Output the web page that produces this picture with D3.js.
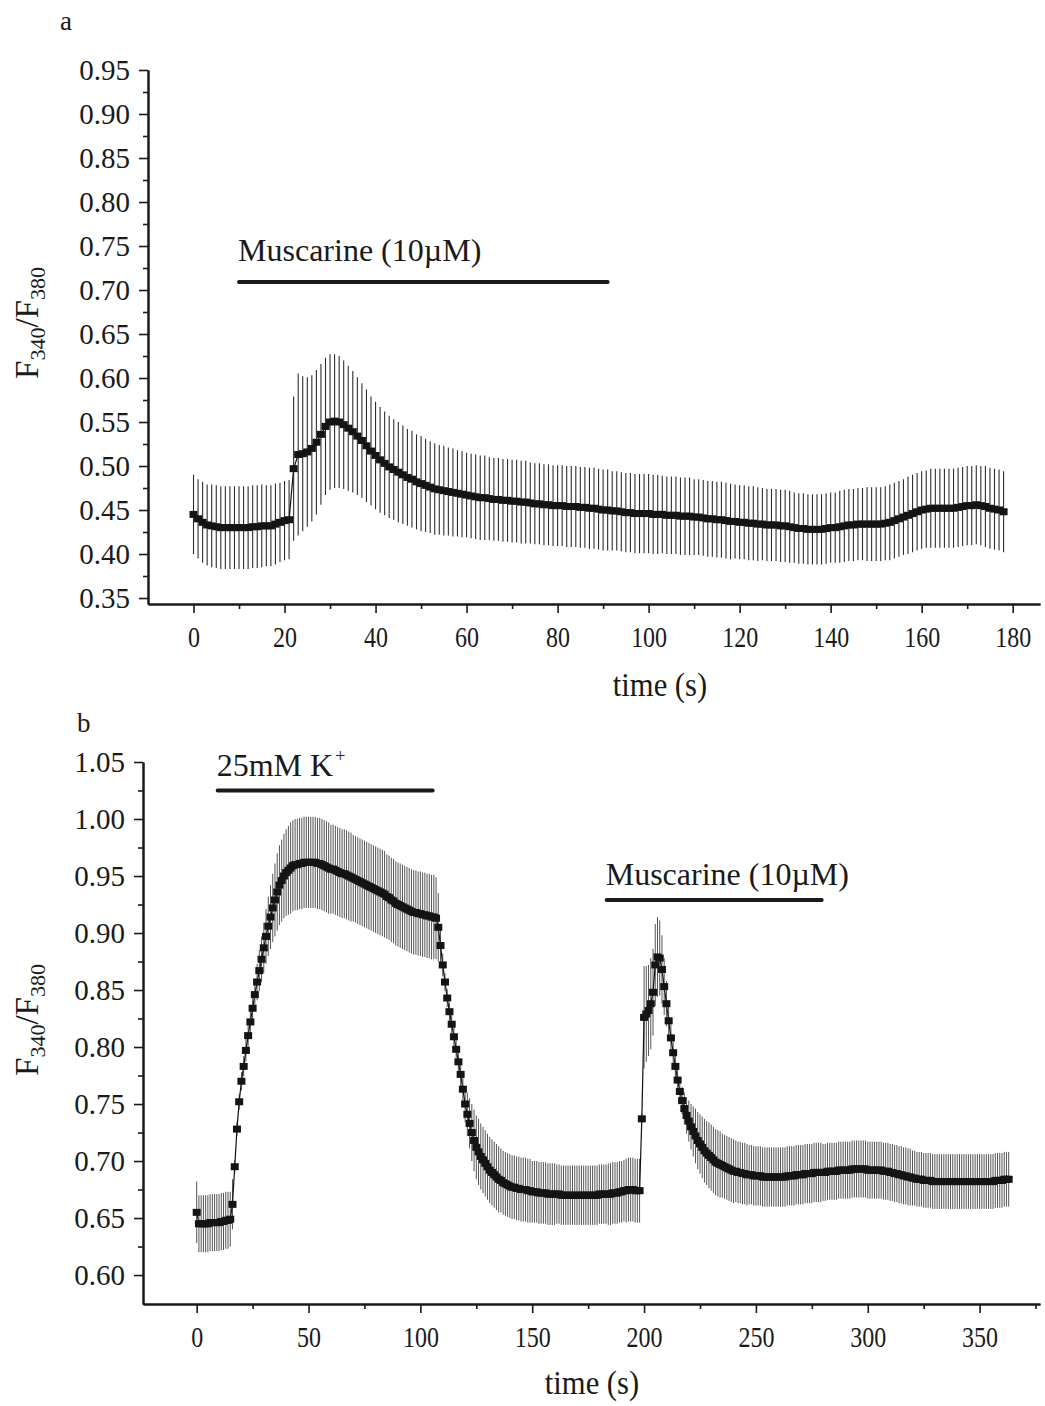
<!DOCTYPE html>
<html><head><meta charset="utf-8">
<script src="https://cdn.jsdelivr.net/npm/d3@7"></script>
<style>
body{margin:0;background:#fff}
svg{display:block;background:#fff}
text{font-family:"Liberation Serif","Times New Roman",serif;fill:#1a1a1a}
</style>
</head><body>
<svg id="chart" width="1045" height="1406"></svg>
<script>
// ---------------- DATA ----------------
// Panel a: sampled every 1 s, from t = 0 s
const sampleStepA = 1;
const meanA = [
0.445,0.440,0.436,0.433,0.432,0.431,0.430,0.430,0.430,0.430,
0.430,0.430,0.430,0.431,0.431,0.432,0.432,0.432,0.434,0.436,
0.438,0.439,0.497,0.513,0.514,0.516,0.520,0.527,0.536,0.545,
0.550,0.551,0.550,0.547,0.543,0.539,0.534,0.529,0.523,0.517,
0.512,0.507,0.503,0.499,0.496,0.493,0.490,0.487,0.485,0.482,
0.480,0.478,0.476,0.474,0.473,0.472,0.471,0.470,0.469,0.468,
0.467,0.466,0.465,0.464,0.464,0.463,0.462,0.462,0.461,0.461,
0.460,0.460,0.459,0.459,0.458,0.457,0.457,0.456,0.456,0.455,
0.455,0.455,0.454,0.454,0.454,0.453,0.453,0.452,0.452,0.451,
0.450,0.450,0.449,0.449,0.448,0.447,0.447,0.446,0.446,0.446,
0.446,0.445,0.445,0.445,0.444,0.444,0.444,0.443,0.443,0.443,
0.442,0.442,0.441,0.440,0.440,0.439,0.439,0.438,0.437,0.437,
0.436,0.436,0.435,0.435,0.434,0.434,0.433,0.433,0.433,0.432,
0.432,0.431,0.430,0.429,0.429,0.428,0.428,0.428,0.428,0.429,
0.430,0.430,0.431,0.432,0.433,0.433,0.434,0.434,0.434,0.434,
0.434,0.434,0.435,0.436,0.438,0.440,0.442,0.444,0.446,0.448,
0.450,0.451,0.452,0.452,0.452,0.452,0.452,0.452,0.453,0.454,
0.455,0.455,0.456,0.455,0.454,0.452,0.451,0.450,0.448];
const errA = [
0.045,0.045,0.046,0.046,0.047,0.047,0.047,0.047,0.047,0.047,
0.047,0.047,0.047,0.047,0.047,0.047,0.046,0.046,0.046,0.045,
0.045,0.045,0.082,0.092,0.088,0.085,0.083,0.082,0.080,0.078,
0.077,0.076,0.075,0.073,0.071,0.069,0.067,0.065,0.064,0.062,
0.061,0.060,0.059,0.058,0.057,0.057,0.056,0.055,0.055,0.054,
0.054,0.053,0.052,0.052,0.051,0.051,0.050,0.050,0.049,0.049,
0.048,0.048,0.048,0.048,0.048,0.047,0.047,0.047,0.047,0.047,
0.047,0.047,0.047,0.047,0.046,0.046,0.046,0.046,0.046,0.046,
0.046,0.046,0.046,0.046,0.046,0.046,0.046,0.046,0.046,0.046,
0.046,0.046,0.045,0.045,0.045,0.045,0.045,0.045,0.045,0.045,
0.045,0.045,0.045,0.044,0.044,0.044,0.044,0.044,0.044,0.044,
0.043,0.043,0.043,0.043,0.043,0.043,0.043,0.043,0.043,0.042,
0.042,0.042,0.042,0.042,0.042,0.041,0.041,0.041,0.041,0.041,
0.041,0.041,0.040,0.040,0.040,0.040,0.040,0.040,0.040,0.040,
0.040,0.040,0.041,0.041,0.041,0.041,0.041,0.041,0.042,0.042,
0.042,0.042,0.042,0.043,0.043,0.043,0.043,0.044,0.044,0.044,
0.044,0.044,0.045,0.045,0.045,0.045,0.045,0.045,0.045,0.045,
0.045,0.045,0.045,0.045,0.046,0.046,0.046,0.046,0.046];

// Panel b: sampled every 1 s, from t = 0 s
const sampleStepB = 1;
const meanB = [
0.655,0.645,0.645,0.645,0.645,0.645,0.646,0.646,0.646,0.646,
0.646,0.647,0.647,0.648,0.648,0.649,0.662,0.695,0.728,0.752,
0.770,0.783,0.797,0.810,0.822,0.834,0.846,0.857,0.867,0.877,
0.887,0.897,0.906,0.914,0.922,0.929,0.936,0.942,0.946,0.950,
0.953,0.955,0.957,0.959,0.960,0.960,0.961,0.961,0.962,0.962,
0.962,0.962,0.962,0.962,0.961,0.961,0.960,0.959,0.958,0.957,
0.956,0.956,0.955,0.954,0.953,0.952,0.952,0.951,0.950,0.949,
0.948,0.947,0.946,0.945,0.944,0.943,0.942,0.941,0.940,0.939,
0.938,0.937,0.936,0.935,0.934,0.932,0.931,0.929,0.928,0.926,
0.925,0.924,0.923,0.922,0.921,0.920,0.919,0.918,0.918,0.917,
0.917,0.916,0.916,0.915,0.915,0.914,0.914,0.913,0.905,0.889,
0.872,0.857,0.843,0.831,0.820,0.809,0.798,0.787,0.776,0.763,
0.750,0.741,0.733,0.725,0.718,0.712,0.708,0.704,0.701,0.698,
0.695,0.692,0.690,0.688,0.686,0.684,0.683,0.681,0.680,0.679,
0.678,0.677,0.677,0.676,0.676,0.675,0.675,0.675,0.674,0.674,
0.673,0.673,0.673,0.672,0.672,0.672,0.672,0.671,0.671,0.671,
0.671,0.671,0.671,0.670,0.670,0.670,0.670,0.670,0.670,0.670,
0.670,0.670,0.670,0.670,0.670,0.670,0.670,0.670,0.670,0.670,
0.671,0.671,0.671,0.671,0.671,0.671,0.672,0.672,0.672,0.673,
0.673,0.674,0.674,0.675,0.675,0.675,0.674,0.674,0.674,0.737,
0.826,0.829,0.832,0.838,0.848,0.872,0.879,0.878,0.868,0.853,
0.838,0.823,0.808,0.795,0.783,0.771,0.761,0.753,0.746,0.740,
0.735,0.730,0.726,0.722,0.718,0.715,0.712,0.709,0.707,0.705,
0.703,0.701,0.699,0.698,0.697,0.696,0.695,0.694,0.693,0.692,
0.691,0.691,0.690,0.690,0.689,0.689,0.688,0.688,0.688,0.687,
0.687,0.687,0.687,0.686,0.686,0.686,0.686,0.686,0.686,0.686,
0.686,0.686,0.686,0.686,0.687,0.687,0.687,0.687,0.688,0.688,
0.688,0.688,0.689,0.689,0.689,0.689,0.690,0.690,0.690,0.690,
0.690,0.690,0.691,0.691,0.691,0.691,0.691,0.692,0.692,0.692,
0.692,0.692,0.692,0.693,0.693,0.693,0.693,0.693,0.693,0.693,
0.692,0.692,0.692,0.692,0.692,0.692,0.692,0.691,0.691,0.691,
0.690,0.690,0.689,0.689,0.688,0.688,0.687,0.687,0.686,0.686,
0.685,0.685,0.684,0.684,0.684,0.683,0.683,0.683,0.683,0.682,
0.682,0.682,0.682,0.682,0.682,0.682,0.682,0.682,0.682,0.682,
0.682,0.682,0.682,0.682,0.682,0.682,0.682,0.682,0.682,0.682,
0.682,0.682,0.682,0.682,0.682,0.682,0.682,0.683,0.683,0.683,
0.683,0.684,0.684,0.684];
const errB = [
0.027,0.025,0.025,0.025,0.025,0.025,0.025,0.025,0.025,0.025,
0.025,0.025,0.025,0.025,0.025,0.024,0.022,0.006,0.006,0.007,
0.008,0.009,0.010,0.011,0.012,0.013,0.014,0.016,0.018,0.020,
0.022,0.024,0.026,0.028,0.030,0.032,0.034,0.035,0.036,0.037,
0.038,0.039,0.040,0.040,0.040,0.040,0.040,0.040,0.040,0.040,
0.040,0.040,0.040,0.040,0.040,0.040,0.040,0.040,0.040,0.040,
0.039,0.039,0.039,0.039,0.039,0.039,0.039,0.039,0.039,0.039,
0.038,0.038,0.038,0.038,0.038,0.038,0.038,0.038,0.038,0.038,
0.038,0.038,0.038,0.038,0.038,0.037,0.037,0.037,0.037,0.037,
0.037,0.037,0.037,0.037,0.037,0.037,0.037,0.037,0.037,0.037,
0.037,0.037,0.037,0.037,0.037,0.037,0.037,0.036,0.030,0.015,
0.010,0.008,0.008,0.008,0.008,0.008,0.008,0.009,0.012,0.014,
0.016,0.019,0.022,0.025,0.027,0.028,0.029,0.029,0.029,0.029,
0.029,0.029,0.029,0.029,0.029,0.029,0.028,0.028,0.028,0.028,
0.028,0.028,0.028,0.028,0.028,0.028,0.028,0.028,0.028,0.028,
0.027,0.027,0.027,0.027,0.027,0.027,0.027,0.027,0.027,0.027,
0.027,0.026,0.026,0.026,0.026,0.026,0.026,0.026,0.026,0.026,
0.026,0.026,0.026,0.026,0.026,0.026,0.026,0.026,0.026,0.026,
0.026,0.026,0.026,0.026,0.027,0.027,0.027,0.027,0.027,0.027,
0.027,0.027,0.028,0.028,0.028,0.028,0.028,0.028,0.028,0.004,
0.045,0.042,0.040,0.040,0.038,0.036,0.035,0.033,0.030,0.025,
0.020,0.016,0.013,0.011,0.010,0.010,0.011,0.012,0.014,0.016,
0.018,0.020,0.022,0.024,0.025,0.026,0.027,0.028,0.028,0.029,
0.029,0.029,0.029,0.029,0.029,0.028,0.028,0.028,0.028,0.028,
0.028,0.027,0.027,0.027,0.027,0.027,0.027,0.026,0.026,0.026,
0.026,0.026,0.026,0.026,0.026,0.026,0.026,0.026,0.026,0.026,
0.026,0.026,0.026,0.026,0.026,0.026,0.026,0.026,0.026,0.026,
0.026,0.026,0.026,0.026,0.026,0.026,0.026,0.026,0.026,0.026,
0.025,0.025,0.025,0.025,0.025,0.025,0.025,0.025,0.025,0.025,
0.025,0.025,0.025,0.025,0.025,0.025,0.025,0.025,0.025,0.025,
0.025,0.025,0.025,0.025,0.025,0.025,0.025,0.025,0.025,0.025,
0.025,0.025,0.025,0.025,0.025,0.025,0.025,0.025,0.025,0.025,
0.024,0.024,0.024,0.024,0.024,0.024,0.024,0.024,0.024,0.024,
0.024,0.024,0.024,0.024,0.024,0.024,0.024,0.024,0.024,0.024,
0.024,0.024,0.024,0.024,0.024,0.024,0.024,0.024,0.024,0.024,
0.024,0.024,0.024,0.024,0.024,0.024,0.024,0.024,0.024,0.024,
0.024,0.024,0.024,0.024];

// Tick values
const yTicksA = [0.35,0.40,0.45,0.50,0.55,0.60,0.65,0.70,0.75,0.80,0.85,0.90,0.95];
const yMinorA = [0.375,0.425,0.475,0.525,0.575,0.625,0.675,0.725,0.775,0.825,0.875,0.925];
const xTicksA = [0,20,40,60,80,100,120,140,160,180];
const xMinorA = [10,30,50,70,90,110,130,150,170];
const yTicksB = [0.60,0.65,0.70,0.75,0.80,0.85,0.90,0.95,1.00,1.05];
const yMinorB = [0.625,0.675,0.725,0.775,0.825,0.875,0.925,0.975,1.025];
const xTicksB = [0,50,100,150,200,250,300,350];
const xMinorB = [25,75,125,175,225,275,325,375];

// Stimulus annotations (time in s, ratio level)
const annLabelsA = ["Muscarine (10\u00B5M)"];
const annStartA = [10];
const annEndA = [91];
const annLevelA = [0.709];
const annLabelsB = ["25mM K", "Muscarine (10\u00B5M)"];
const annSupB = ["+", ""];
const annStartB = [9.4, 183.3];
const annEndB = [105.5, 279.4];
const annLevelB = [1.025, 0.929];

// ---------------- DRAWING ----------------
const svg = d3.select("#chart");
svg.append("rect").attr("width",1045).attr("height",1406).attr("fill","#fff");

function drawPanel(o) {
  const g = svg.append("g");
  const x = d3.scaleLinear().domain(o.xDomain).range(o.xRange);
  const y = d3.scaleLinear().domain(o.yDomain).range(o.yRange);
  const pts = o.mean.map((m,i)=>({t:i*o.step, m:m, e:o.err[i]}));

  // error bars
  g.append("g").selectAll("line").data(pts).join("line")
    .attr("x1",d=>x(d.t)).attr("x2",d=>x(d.t))
    .attr("y1",d=>y(d.m+d.e)).attr("y2",d=>y(d.m-d.e))
    .attr("stroke",o.errColor).attr("stroke-width",o.errWidth);
  // connecting line
  g.append("path").datum(pts)
    .attr("d",d3.line().x(d=>x(d.t)).y(d=>y(d.m)))
    .attr("fill","none").attr("stroke","#111").attr("stroke-width",1.2);
  // square markers
  g.append("g").selectAll("rect").data(pts).join("rect")
    .attr("x",d=>x(d.t)-4).attr("y",d=>y(d.m)-3.5)
    .attr("width",8).attr("height",7).attr("fill","#141414");

  // axes
  const yAx = g.append("g").attr("transform",`translate(${o.xRange[0]},0)`)
    .call(d3.axisLeft(y).tickValues(o.yTicks).tickFormat(d3.format(".2f")).tickSize(9).tickSizeOuter(0).tickPadding(9));
  g.append("g").attr("transform",`translate(${o.xRange[0]},0)`)
    .call(d3.axisLeft(y).tickValues(o.yMinor).tickFormat("").tickSize(5).tickSizeOuter(0));
  const xAx = g.append("g").attr("transform",`translate(0,${o.yRange[0]})`)
    .call(d3.axisBottom(x).tickValues(o.xTicks).tickFormat(d3.format("d")).tickSize(9).tickSizeOuter(0).tickPadding(13));
  g.append("g").attr("transform",`translate(0,${o.yRange[0]})`)
    .call(d3.axisBottom(x).tickValues(o.xMinor).tickFormat("").tickSize(5).tickSizeOuter(0));
  g.selectAll(".domain").attr("stroke","#1a1a1a").attr("stroke-width",2);
  g.selectAll(".tick line").attr("stroke","#1a1a1a").attr("stroke-width",1.6);
  yAx.selectAll("text").attr("font-size",29).attr("font-family","Liberation Serif").attr("fill","#1a1a1a");
  xAx.selectAll("text").attr("font-size",30).attr("font-family","Liberation Serif").attr("fill","#1a1a1a")
    .attr("transform","scale(0.8,1)");

  // axis titles
  g.append("text").attr("x",o.xTitleX/0.9).attr("y",o.yRange[0]+o.xTitleGap)
    .attr("transform","scale(0.9,1)")
    .attr("text-anchor","middle").attr("font-size",34).text("time (s)");
  const yl = g.append("text").attr("transform",`translate(38,${o.yTitleY}) rotate(-90)`)
    .attr("text-anchor","middle").attr("font-size",33);
  yl.append("tspan").text("F");
  yl.append("tspan").attr("font-size",22).attr("dy",7).text("340");
  yl.append("tspan").attr("dy",-7).text("/F");
  yl.append("tspan").attr("font-size",22).attr("dy",7).text("380");

  // panel letter
  g.append("text").attr("x",o.letterX).attr("y",o.letterY).attr("font-size",27).text(o.letter);

  // annotations
  o.annLabels.forEach((lab,i)=>{
    const yy = y(o.annLevel[i]);
    g.append("line").attr("x1",x(o.annStart[i])).attr("x2",x(o.annEnd[i]))
      .attr("y1",yy).attr("y2",yy).attr("stroke","#1a1a1a").attr("stroke-width",4).attr("stroke-linecap","round");
    const t = g.append("text").attr("x",x(o.annStart[i])-1).attr("y",yy-o.annGap)
      .attr("font-size",32).text(lab);
    if (o.annSup && o.annSup[i]) t.append("tspan").attr("font-size",18).attr("dx",2).attr("dy",-14).text(o.annSup[i]);
  });
}

drawPanel({
  mean:meanA, err:errA, step:sampleStepA,
  xDomain:[-10,186], xRange:[148,1040], yDomain:[0.3432,0.95], yRange:[604,70],
  yTicks:yTicksA, yMinor:yMinorA, xTicks:xTicksA, xMinor:xMinorA,
  errColor:"#2e2e2e", errWidth:1.1,
  xTitleX:660, xTitleGap:92, yTitleY:323, letter:"a", letterX:60, letterY:30,
  annLabels:annLabelsA, annStart:annStartA, annEnd:annEndA, annLevel:annLevelA, annGap:21
});
drawPanel({
  mean:meanB, err:errB, step:sampleStepB,
  xDomain:[-24,377], xRange:[143,1040], yDomain:[0.5746,1.05], yRange:[1304,762],
  yTicks:yTicksB, yMinor:yMinorB, xTicks:xTicksB, xMinor:xMinorB,
  errColor:"#555", errWidth:1,
  xTitleX:592, xTitleGap:90, yTitleY:1020, letter:"b", letterX:77, letterY:732,
  annLabels:annLabelsB, annSup:annSupB, annStart:annStartB, annEnd:annEndB, annLevel:annLevelB, annGap:15
});
</script>
</body></html>
